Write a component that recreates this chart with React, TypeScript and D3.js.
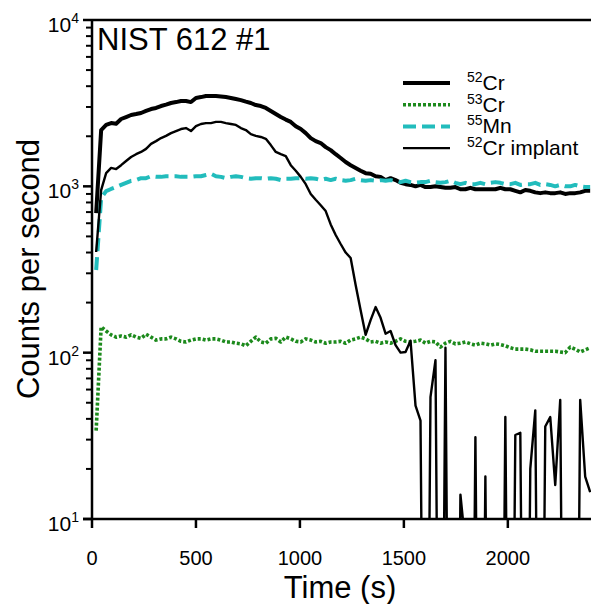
import React from 'react';
import * as d3 from 'd3';

const time = [20,44,68,92,116,140,164,188,212,236,260,284,308,332,356,380,404,428,452,476,500,524,548,572,596,620,644,668,692,716,740,764,788,812,836,860,884,908,932,956,980,1004,1028,1052,1076,1100,1124,1148,1172,1196,1220,1244,1268,1292,1316,1340,1364,1388,1412,1436,1460,1484,1508,1532,1556,1580,1604,1628,1652,1676,1700,1724,1748,1772,1796,1820,1844,1868,1892,1916,1940,1964,1988,2012,2036,2060,2084,2108,2132,2156,2180,2204,2228,2252,2276,2300,2324,2348,2372,2396];

const cr52 = [690,2180,2340,2400,2380,2540,2610,2685,2720,2760,
2840,2915,2960,3040,3100,3170,3210,3260,3260,3210,
3400,3440,3490,3490,3490,3470,3440,3400,3350,3300,
3230,3170,3080,3040,2960,2840,2720,2610,2520,2440,
2300,2210,2090,1950,1870,1820,1720,1650,1560,1480,
1400,1340,1290,1240,1200,1190,1150,1140,1090,1120,
1090,1050,1030,1020,1000,1020,990,990,1000,990,
980,980,990,960,960,980,960,960,960,960,
960,980,960,960,940,920,950,940,920,910,
920,910,910,920,900,910,910,920,940,940];

const cr53 = [34,143,135,128,124,126,124,128,124,122,
129,124,119,121,121,124,121,117,116,119,
121,121,119,121,121,119,116,116,114,113,
110,117,124,116,114,121,122,116,124,121,
117,116,121,119,116,117,114,116,116,117,
114,119,121,124,121,116,117,114,116,114,
117,121,117,116,117,119,114,117,116,108,
114,117,113,114,116,113,111,114,113,111,
113,112,110,107,105,105,105,104,102,102,
102,102,102,101,100,108,105,101,104,107];

const mn55 = [314,850,937,964,990,1020,1050,1080,1090,1120,
1120,1150,1140,1140,1150,1150,1150,1140,1140,1140,
1150,1150,1170,1190,1150,1140,1120,1140,1150,1140,
1120,1110,1120,1120,1110,1120,1110,1090,1110,1110,
1120,1120,1110,1120,1110,1090,1110,1090,1110,1090,
1080,1090,1110,1090,1080,1090,1080,1090,1080,1090,
1080,1060,1080,1060,1050,1060,1060,1080,1060,1050,
1060,1080,1050,1030,1050,1030,1030,1050,1030,1050,
1060,1050,1030,1030,1050,1020,1030,1030,1050,1020,
1030,1020,1000,1020,1000,1000,1020,1000,990,990];

const cr52Implant = [403,950,1200,1290,1270,1340,1420,1500,1560,1610,
1680,1800,1870,1950,2010,2090,2150,2210,2240,2150,
2300,2370,2400,2400,2440,2440,2400,2370,2340,2240,
2180,2060,2010,1980,1930,1770,1610,1560,1520,1340,
1240,1140,1030,900,830,770,710,590,510,450,
400,371,255,180,128,157,188,162,130,135,
111,100,101,118,48,39,0,54,90,0,
107,0,0,14,7,0,31,0,18,0,
0,0,41,0,32,33,0,20,45,0,
36,41,16,52,0,0,0,52,18,14.5];

const xTicks = [0, 500, 1000, 1500, 2000];
const yMajor = [10, 100, 1000, 10000];
const yExponents = ['1', '2', '3', '4'];
const legendMass = ['52', '53', '55', '52'];
const legendName = ['Cr', 'Cr', 'Mn', 'Cr implant'];
const titleText = 'NIST 612 #1';
const xTitle = 'Time (s)';
const yTitle = 'Counts per second';

const FONT = '"Liberation Sans", Arial, Helvetica, sans-serif';

export default function App() {
  const W = 591, H = 604;
  const L = 92, R = 591, T = 20, B = 519;
  const x = d3.scaleLinear().domain([0, 2400]).range([L, R]);
  const y = d3.scaleLog().domain([10, 10000]).range([B, T]);
  const mk = (vals: number[]) =>
    d3.line<number>()
      .x((_, i) => x(time[i]))
      .y((v) => y(Math.max(v, 0.01)))(vals) || '';

  const series = [
    { vals: cr52, stroke: '#000', w: 4, dash: undefined as string | undefined },
    { vals: cr53, stroke: '#1c8a1c', w: 3.6, dash: '3 2' },
    { vals: mn55, stroke: '#22bcbc', w: 4, dash: '13 6' },
    { vals: cr52Implant, stroke: '#000', w: 2.4, dash: undefined },
  ];

  const minorTicks = y.ticks().filter((v) => !yMajor.some((m) => Math.abs(m - v) < 1e-6));

  return (
    <svg width={W} height={H} style={{ position: 'absolute', left: 0, top: 0, background: '#fff' }} fontFamily={FONT}>
      <defs>
        <clipPath id="plotclip">
          <rect x={L} y={T} width={R - L} height={B - T} />
        </clipPath>
      </defs>
      <g clipPath="url(#plotclip)" fill="none" strokeLinejoin="round">
        {series.map((s, i) => (
          <path key={i} d={mk(s.vals)} stroke={s.stroke} strokeWidth={s.w} strokeDasharray={s.dash} />
        ))}
      </g>
      <g stroke="#000" strokeWidth={2.5} fill="none">
        <line x1={L} x2={L} y1={T} y2={B} />
        <line x1={L - 9} x2={R} y1={B} y2={B} />
        <line x1={L} x2={R} y1={T} y2={T} />
        {yMajor.map((v) => (
          <line key={'M' + v} x1={L - 9} x2={L} y1={y(v)} y2={y(v)} />
        ))}
        {minorTicks.map((v) => (
          <line key={'m' + v} x1={L - 6} x2={L} y1={y(v)} y2={y(v)} strokeWidth={2} />
        ))}
        {xTicks.map((v) => (
          <line key={'x' + v} x1={x(v)} x2={x(v)} y1={B} y2={B + 9} />
        ))}
      </g>
      {yMajor.map((v, i) => (
        <text key={'yl' + v} x={79} y={y(v) + 12} textAnchor="end" fontSize={21}>
          10<tspan dy={-9} fontSize={14}>{yExponents[i]}</tspan>
        </text>
      ))}
      {xTicks.map((v) => (
        <text key={'xl' + v} x={x(v)} y={565} textAnchor="middle" fontSize={20}>{v}</text>
      ))}
      <text x={340} y={598} textAnchor="middle" fontSize={31}>{xTitle}</text>
      <text transform={`translate(39,269) rotate(-90)`} textAnchor="middle" fontSize={31}>{yTitle}</text>
      <text x={97} y={50} fontSize={31}>{titleText}</text>
      {series.map((s, i) => {
        const by = 90 + i * 21.7;
        return (
          <g key={'lg' + i}>
            <line x1={403} x2={450} y1={by - 7} y2={by - 7} stroke={s.stroke} strokeWidth={s.w} strokeDasharray={s.dash} />
            <text x={467} y={by} fontSize={21}>
              <tspan dy={-8} fontSize={14}>{legendMass[i]}</tspan>
              <tspan dy={8}>{legendName[i]}</tspan>
            </text>
          </g>
        );
      })}
    </svg>
  );
}
